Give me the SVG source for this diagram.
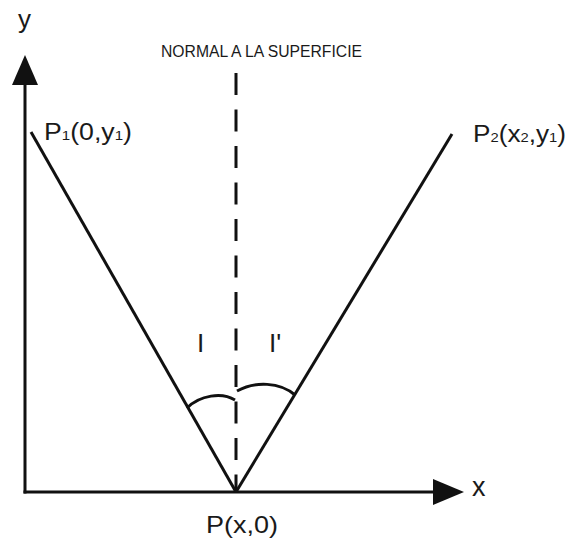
<svg xmlns="http://www.w3.org/2000/svg" width="568" height="540" viewBox="0 0 568 540">
<style>
.ln{stroke:#111;stroke-width:3;fill:none;stroke-linecap:butt}
.ar{fill:#111;stroke:none}
.t{font-family:"Liberation Sans",Arial,sans-serif;fill:#1a1a1a}
</style>
<rect width="568" height="540" fill="#ffffff"/>
<g id="connectors">
<line id="y-axis" class="ln" x1="25" y1="493.5" x2="25" y2="80"/>
<polygon class="ar" points="25,55 12,85 38,85"/>
<line id="x-axis" class="ln" x1="23.5" y1="492" x2="438" y2="492"/>
<polygon class="ar" points="464,492 433,479 433,505"/>
<line id="normal" class="ln" x1="236" y1="73" x2="236" y2="492" stroke-dasharray="22 14.5"/>
<line id="ray-incident" class="ln" x1="31" y1="132" x2="236" y2="492"/>
<line id="ray-reflected" class="ln" x1="452" y1="134" x2="236" y2="492"/>
<path id="arc-i" class="ln" d="M187,408 C200,395 222,392 235,400"/>
<path id="arc-r" class="ln" d="M237,391 C255,381 280,382 295,395"/>
</g>
<g id="label-y"><text class="t" x="18" y="28" font-size="26">y</text></g>
<g id="label-x"><text class="t" x="472" y="496" font-size="27">x</text></g>
<g id="label-normal"><text class="t" x="161" y="57" font-size="16" textLength="201" lengthAdjust="spacingAndGlyphs">NORMAL A LA SUPERFICIE</text></g>
<g id="P1"><text class="t" x="44" y="140" font-size="23" textLength="88" lengthAdjust="spacingAndGlyphs">P<tspan font-size="13">1</tspan>(0,y<tspan font-size="13">1</tspan>)</text></g>
<g id="P2"><text class="t" x="473" y="142" font-size="23" textLength="93" lengthAdjust="spacingAndGlyphs">P<tspan font-size="13">2</tspan>(x<tspan font-size="13">2</tspan>,y<tspan font-size="13">1</tspan>)</text></g>
<g id="P"><text class="t" x="206" y="533" font-size="24" textLength="72" lengthAdjust="spacingAndGlyphs">P(x,0)</text></g>
<g id="label-I"><text class="t" x="197" y="352" font-size="26">I</text></g>
<g id="label-Ip"><text class="t" x="269" y="352" font-size="26">I'</text></g>
</svg>
